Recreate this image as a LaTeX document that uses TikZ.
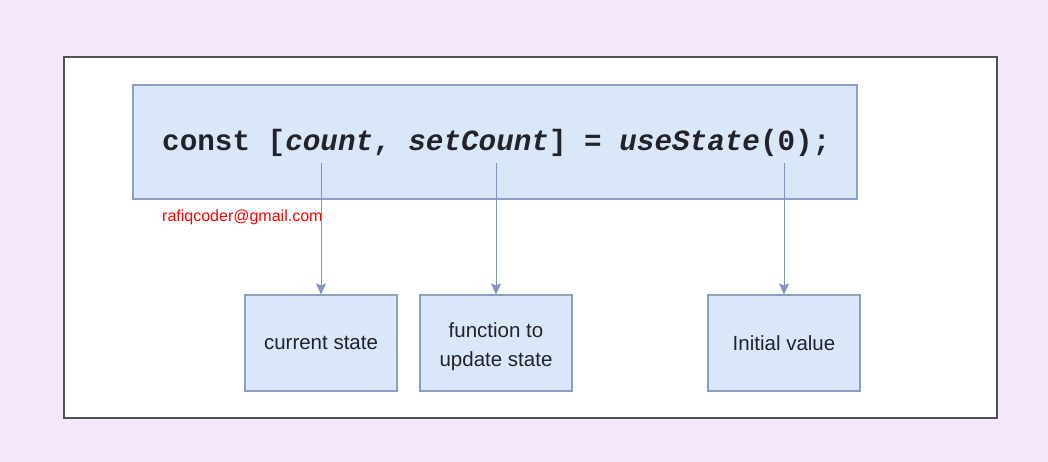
\documentclass[tikz,border=0pt]{standalone}
\usepackage{fontspec}
\setmainfont{Liberation Sans}
\newfontfamily\codefont{Liberation Mono}
\usetikzlibrary{arrows.meta}
\definecolor{bglav}{RGB}{245,232,252}
\definecolor{boxfill}{RGB}{218,231,249}
\definecolor{boxline}{RGB}{140,160,196}
\definecolor{arrline}{RGB}{130,148,186}
\definecolor{frameline}{RGB}{80,80,85}
\definecolor{txt}{RGB}{34,34,40}
\tikzset{
  blue box/.style={draw=boxline, fill=boxfill, line width=1.2pt, inner sep=0pt},
  small box/.style={blue box, minimum width=152pt, minimum height=96pt, align=center,
    text=txt, font=\fontsize{20.5}{29.5}\selectfont},
  conn/.style={draw=arrline, line width=1pt, -{Stealth[length=11pt,width=10pt,inset=2pt]}}
}
\begin{document}
\begin{tikzpicture}[x=1pt,y=-1pt]
\fill[bglav] (0,0) rectangle (1048,462);
\useasboundingbox (0,0) rectangle (1048,462);
\draw[frameline, fill=white, line width=1.3pt] (64,57) rectangle (997,418);
\node[blue box, minimum width=724pt, minimum height=114pt] (code) at (495,142) {};
\node[anchor=west, text=txt, inner sep=0pt, font=\codefont\bfseries\fontsize{29.3}{34}\selectfont] (codetext) at (162,143)
  {const [\textit{count}, \textit{setCount}] = \textit{useState}(0);};
\node[anchor=west, text=red, inner sep=0pt, font=\fontsize{16}{18}\selectfont] (mail) at (162,217) {rafiqcoder@gmail.com};
\node[small box] (cur) at (321,343) {\raisebox{-2pt}{current state}};
\node[small box] (fun) at (496,343) {\strut\raisebox{-2pt}{function to}\\\raisebox{-2pt}{update state}};
\node[small box] (init) at (784,343) {\raisebox{-2pt}{Initial value}};
\coordinate (s1) at (321,163);
\coordinate (s2) at (496,163);
\coordinate (s3) at (784,163);
\draw[conn] (s1) -- (cur.north);
\draw[conn] (s2) -- (fun.north);
\draw[conn] (s3) -- (init.north);
\end{tikzpicture}
\end{document}
